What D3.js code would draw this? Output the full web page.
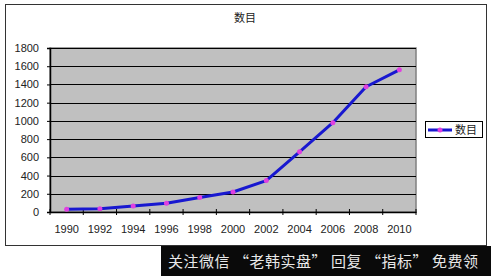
<!DOCTYPE html>
<html>
<head>
<meta charset="utf-8">
<script src="https://cdn.jsdelivr.net/npm/d3@7"></script>
<style>
  body { margin: 0; background: #fff; }
  text { font-family: "Liberation Sans", "Noto Sans CJK SC", sans-serif; }
</style>
</head>
<body>
<div id="chart"></div>
<script>
// Chart data
var years = ["1990", "1992", "1994", "1996", "1998", "2000", "2002", "2004", "2006", "2008", "2010"];
var counts = [30, 35, 65, 95, 160, 220, 345, 660, 980, 1375, 1560];
var yTicks = [0, 200, 400, 600, 800, 1000, 1200, 1400, 1600, 1800];
var seriesName = "数目";
var watermark = "关注微信 “老韩实盘” 回复 “指标” 免费领";

var W = 491, H = 276;
var plot = { left: 50, top: 48, right: 416, bottom: 212 };

var svg = d3.select("#chart")
    .append("svg")
    .attr("width", W)
    .attr("height", H);

// Outer chart border
svg.append("rect")
    .attr("x", 5.5).attr("y", 4.5)
    .attr("width", 481).attr("height", 241)
    .style("fill", "#fff")
    .style("stroke", "#333")
    .style("stroke-width", 1);

// Title
svg.append("text")
    .attr("x", 245).attr("y", 22)
    .attr("text-anchor", "middle")
    .style("font-size", "11px")
    .style("fill", "#222")
    .text(seriesName);

// Scales
var x = d3.scaleBand().domain(years).range([plot.left, plot.right]);
var y = d3.scaleLinear().domain([0, 1800]).range([plot.bottom, plot.top]);

// Plot area
svg.append("rect")
    .attr("x", plot.left).attr("y", plot.top)
    .attr("width", plot.right - plot.left).attr("height", plot.bottom - plot.top)
    .style("fill", "#c0c0c0")
    .style("stroke", "#808080")
    .style("stroke-width", 1.5);

// Gridlines
svg.append("g")
    .selectAll("line")
    .data(yTicks.filter(d => d > 0))
    .enter()
    .append("line")
    .attr("x1", plot.left).attr("x2", plot.right)
    .attr("y1", d => Math.round(y(d)) + 0.5)
    .attr("y2", d => Math.round(y(d)) + 0.5)
    .style("stroke", "#000")
    .style("stroke-width", 1);

// Y axis
var yAxis = svg.append("g")
    .attr("transform", "translate(" + plot.left + ",0)")
    .call(d3.axisLeft(y).tickValues(yTicks).tickFormat(d3.format("d")).tickSize(3).tickPadding(8));
yAxis.select(".domain").style("stroke", "#000").style("stroke-width", 1.5);
yAxis.selectAll("text").style("font-size", "11px").style("fill", "#222").style("font-family", "Liberation Sans");

// X axis: ticks at category boundaries
var xAxis = svg.append("g")
    .attr("transform", "translate(0," + plot.bottom + ")")
    .call(d3.axisBottom(x).tickSize(0).tickPadding(13));
xAxis.select(".domain").style("stroke", "#000").style("stroke-width", 1.5);
xAxis.selectAll("text").style("font-size", "11px").style("fill", "#222").style("font-family", "Liberation Sans");
xAxis.selectAll(".boundary")
    .data(years.concat(["end"]))
    .enter()
    .append("line")
    .attr("x1", (d, i) => plot.left + i * x.bandwidth())
    .attr("x2", (d, i) => plot.left + i * x.bandwidth())
    .attr("y1", -3).attr("y2", 3)
    .style("stroke", "#000");

// Series line
var line = d3.line()
    .x((d, i) => x(years[i]) + x.bandwidth() / 2)
    .y(d => y(d));

svg.append("path")
    .datum(counts)
    .attr("d", line)
    .style("fill", "none")
    .style("stroke", "#1818d0")
    .style("stroke-width", 3)
    .style("stroke-linejoin", "round");

svg.selectAll(".marker")
    .data(counts)
    .enter()
    .append("circle")
    .attr("cx", (d, i) => x(years[i]) + x.bandwidth() / 2)
    .attr("cy", d => y(d))
    .attr("r", 2.5)
    .style("fill", "#e040e0");

// Legend
var legend = svg.append("g");
legend.append("rect")
    .attr("x", 425.5).attr("y", 121.5)
    .attr("width", 57).attr("height", 16)
    .style("fill", "#fff")
    .style("stroke", "#000");
legend.append("line")
    .attr("x1", 428).attr("x2", 452)
    .attr("y1", 130).attr("y2", 130)
    .style("stroke", "#1818d0")
    .style("stroke-width", 3);
legend.append("circle")
    .attr("cx", 440).attr("cy", 130).attr("r", 2.5)
    .style("fill", "#e040e0");
legend.append("text")
    .attr("x", 455).attr("y", 134)
    .style("font-size", "11px")
    .style("fill", "#222")
    .text(seriesName);

// Watermark band
svg.append("rect")
    .attr("x", 161).attr("y", 246)
    .attr("width", W - 161).attr("height", 30)
    .style("fill", "#0a0a0a");
svg.append("text")
    .attr("x", 323).attr("y", 267)
    .attr("text-anchor", "middle")
    .style("font-family", "Noto Sans CJK SC")
    .style("font-size", "15px")
    .style("fill", "#e8e8e8")
    .attr("textLength", 310)
    .text(watermark);
</script>
</body>
</html>
